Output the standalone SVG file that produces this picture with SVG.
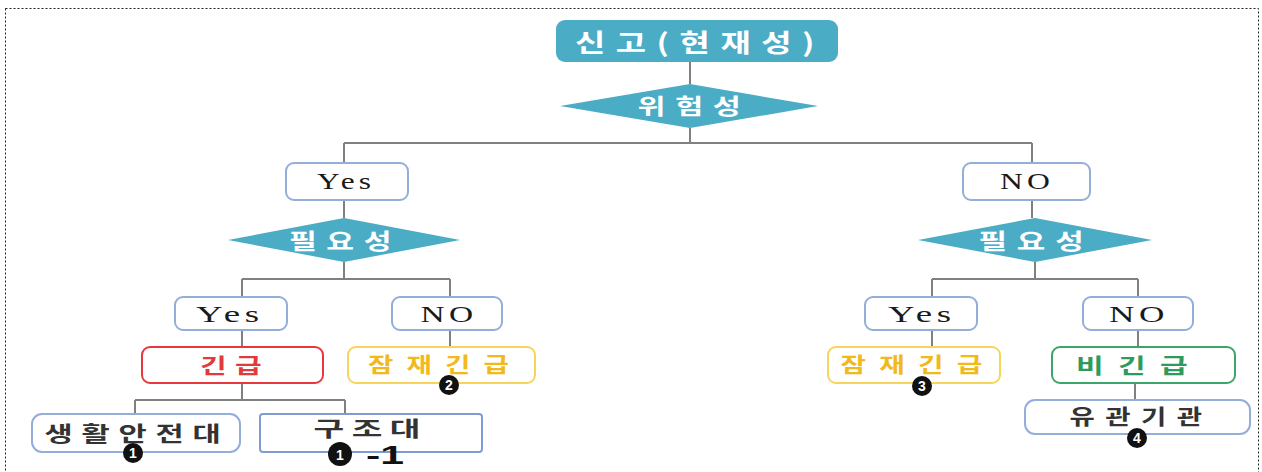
<svg xmlns="http://www.w3.org/2000/svg" width="1262" height="472" viewBox="0 0 1262 472">
<style>
.conn{stroke:#808080;stroke-width:2;fill:none}
.teal{fill:#4BACC6}
.yn{fill:#fff;stroke:#93AEDB;stroke-width:2}
.wt{font-family:"Noto Sans CJK KR",sans-serif;font-weight:700;fill:#fff;text-anchor:middle}
.en{font-family:"Liberation Serif",serif;font-size:23px;letter-spacing:3px;fill:#1a1a1a;text-anchor:middle}
.kr{font-family:"Noto Sans CJK KR",sans-serif;font-weight:700;font-size:21px;text-anchor:middle}
.num{font-family:"Liberation Sans",sans-serif;font-weight:700;font-size:14px;fill:#fff;text-anchor:middle}
</style>
<rect x="5.5" y="8.5" width="1253" height="480" fill="#fff" stroke="#222" stroke-width="1" stroke-dasharray="2,2"/>
<g id="connectors">
<path class="conn" d="M690 62V84M690 128V143M344 143H1032M344 143V163M344 200V218M344 262V279M242 279H450M242 279V297M450 279V297M242 330V347M450 330V347M242 383V400M135 400H345M135 400V414M345 400V414M1032 143V163M1032 200V218M1035 262V279M932 279H1138M932 279V297M1138 279V297M932 330V347M1138 330V347M1135 383V400"/>
</g>
<g id="n-report"><rect class="teal" x="556" y="20" width="282" height="42" rx="9"/><text class="wt" x="700" y="52" font-size="25" letter-spacing="8" textLength="250" lengthAdjust="spacingAndGlyphs">신고(현재성)</text></g>
<g id="n-risk"><polygon class="teal" points="560,106 690,84 818,106 690,128"/><text class="wt" x="694" y="114" font-size="22" letter-spacing="7" textLength="113" lengthAdjust="spacingAndGlyphs">위험성</text></g>
<g id="n-yes1"><rect class="yn" x="286" y="163" width="122" height="37" rx="8"/><text class="en" x="346" y="189" textLength="58" lengthAdjust="spacingAndGlyphs">Yes</text></g>
<g id="n-need1"><polygon class="teal" points="228,240 344,218 460,240 344,262"/><text class="wt" x="345" y="249" font-size="22" letter-spacing="7" textLength="112" lengthAdjust="spacingAndGlyphs">필요성</text></g>
<g id="n-no1"><rect class="yn" x="963" y="163" width="127" height="37" rx="8"/><text class="en" x="1027" y="189" textLength="54" lengthAdjust="spacingAndGlyphs">NO</text></g>
<g id="n-need2"><polygon class="teal" points="918,240 1035,218 1152,240 1035,262"/><text class="wt" x="1036" y="249" font-size="22" letter-spacing="7" textLength="115" lengthAdjust="spacingAndGlyphs">필요성</text></g>
<g id="n-yes2"><rect class="yn" x="175" y="297" width="112" height="33" rx="8"/><text class="en" x="230" y="322" textLength="68" lengthAdjust="spacingAndGlyphs">Yes</text></g>
<g id="n-no2"><rect class="yn" x="392" y="297" width="110" height="33" rx="8"/><text class="en" x="449" y="322" textLength="57" lengthAdjust="spacingAndGlyphs">NO</text></g>
<g id="n-yes3"><rect class="yn" x="865" y="297" width="112" height="33" rx="8"/><text class="en" x="922" y="322" textLength="68" lengthAdjust="spacingAndGlyphs">Yes</text></g>
<g id="n-no3"><rect class="yn" x="1083" y="297" width="110" height="33" rx="8"/><text class="en" x="1139" y="322" textLength="60" lengthAdjust="spacingAndGlyphs">NO</text></g>
<g id="n-urgent"><rect x="142" y="347" width="181" height="36" rx="8" fill="#fff" stroke="#E8383D" stroke-width="2"/><text class="kr" x="235" y="373" fill="#E23A3A" letter-spacing="6" textLength="70" lengthAdjust="spacingAndGlyphs">긴급</text></g>
<g id="n-latent1"><rect x="348" y="347" width="187" height="36" rx="8" fill="#fff" stroke="#F7D55A" stroke-width="2"/><text class="kr" x="445" y="372" fill="#F2B91B" letter-spacing="10" textLength="154" lengthAdjust="spacingAndGlyphs">잠재긴급</text><circle cx="449" cy="385" r="10" fill="#111"/><text class="num" x="449" y="390">2</text></g>
<g id="n-latent2"><rect x="828" y="347" width="172" height="36" rx="8" fill="#fff" stroke="#F7D55A" stroke-width="2"/><text class="kr" x="918" y="372" fill="#F2B91B" letter-spacing="10" textLength="155" lengthAdjust="spacingAndGlyphs">잠재긴급</text><circle cx="922" cy="386" r="10" fill="#111"/><text class="num" x="922" y="391">3</text></g>
<g id="n-nonurgent"><rect x="1052" y="347" width="183" height="36" rx="8" fill="#fff" stroke="#3BA56A" stroke-width="2"/><text class="kr" x="1139" y="373" fill="#2E9A5C" letter-spacing="10" textLength="126" lengthAdjust="spacingAndGlyphs">비긴급</text></g>
<g id="n-safety"><rect class="yn" x="32" y="414" width="208" height="38" rx="10"/><text class="kr" x="137" y="441" font-size="22" fill="#333" letter-spacing="6" textLength="185" lengthAdjust="spacingAndGlyphs">생활안전대</text><circle cx="133" cy="453" r="10" fill="#111"/><text class="num" x="133" y="458">1</text></g>
<g id="n-rescue"><rect x="260" y="414" width="222" height="38" rx="3" fill="#fff" stroke="#7F9BD3" stroke-width="2"/><text class="kr" x="367" y="436" font-size="21" fill="#333" textLength="107" lengthAdjust="spacingAndGlyphs">구 조 대</text><circle cx="340" cy="454" r="12" fill="#111"/><text class="num" x="340" y="460" font-size="16">1</text><text x="366" y="464" font-family="Liberation Sans,sans-serif" font-weight="700" font-size="26" fill="#111" textLength="38" lengthAdjust="spacingAndGlyphs">-1</text></g>
<g id="n-agency"><rect class="yn" x="1025" y="400" width="225" height="34" rx="10"/><text class="kr" x="1141" y="424" font-size="22" fill="#333" letter-spacing="8" textLength="143" lengthAdjust="spacingAndGlyphs">유관기관</text><circle cx="1137" cy="438" r="10" fill="#111"/><text class="num" x="1137" y="443">4</text></g>
</svg>
